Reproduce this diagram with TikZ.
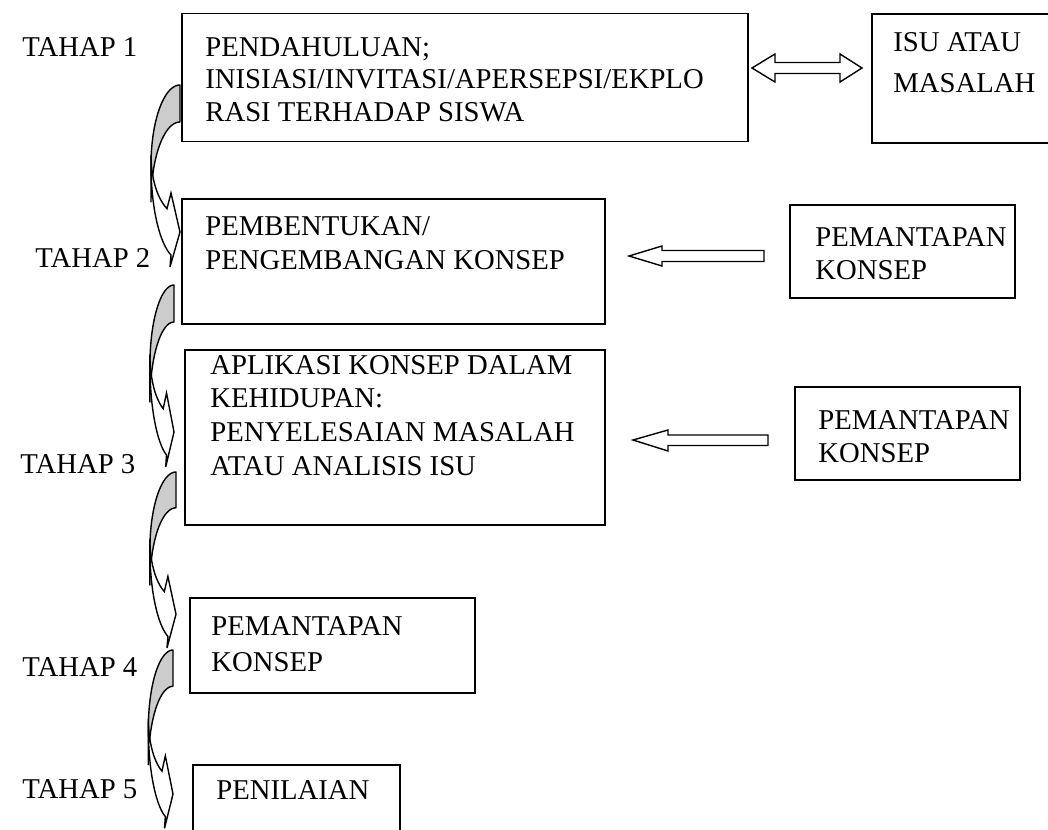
\documentclass[tikz,border=0pt]{standalone}
\usepackage{fontspec}
\setmainfont{Liberation Serif}
% curved block arrow: tail top at (#1,#2), horizontal scale #3, vertical scale #4
\newcommand{\bendarrow}[4]{%
  \begin{scope}[shift={(#1,#2)}, xscale=#3, yscale=#4]
    \path[backband] (0,0)
      -- plot[domain=270:180,samples=30] ({29*cos(\x)},{80+80*sin(\x)})
      -- plot[domain=180:270,samples=30] ({29*cos(\x)},{117+80*sin(\x)})
      -- cycle;
    \path[frontband] plot[domain=180:108.1,samples=30] ({29*cos(\x)},{80+94.7*sin(\x)})
      -- (-10,182) -- (0,147) -- (-9,108)
      -- plot[domain=116.6:180,samples=30] ({29*cos(\x)},{70+60*sin(\x)})
      -- cycle;
  \end{scope}}
\begin{document}
\begin{tikzpicture}[x=0.5pt,y=-0.5pt,
  box/.style={draw, line width=0.75pt, inner sep=0pt},
  lbl/.style={font=\fontsize{14.35}{17}\selectfont, inner sep=0pt, anchor=base west},
  blockarrow/.style={draw, fill=white, line width=0.7pt, line join=miter},
  backband/.style={draw, fill=black!20, line width=0.7pt, line join=round},
  frontband/.style={draw, fill=white, line width=0.7pt, line join=miter},
]
\useasboundingbox (0,0) rectangle (1048,829);
\clip (0,0) rectangle (1048,829);

% boxes
\node[box, minimum width=283pt,   minimum height=64pt]   (b1)  at (465,77.5) {};
\node[box, minimum width=94pt,    minimum height=64.5pt] (isu) at (966,78.5) {};
\node[box, minimum width=211.5pt, minimum height=62.5pt] (b2)  at (393.5,261.5) {};
\node[box, minimum width=112.5pt, minimum height=46.5pt] (r1)  at (902.5,251.5) {};
\node[box, minimum width=210pt,   minimum height=87.5pt] (b3)  at (395,437.5) {};
\node[box, minimum width=112.5pt, minimum height=46.5pt] (r2)  at (907.5,433.5) {};
\node[box, minimum width=142.5pt, minimum height=47.5pt] (b4)  at (332.5,645.5) {};
\node[box, minimum width=103.5pt, minimum height=47.5pt] (b5)  at (296.5,812.5) {};

% stage labels
\node[lbl] (s1) at (22,57)  {TAHAP 1};
\node[lbl] (s2) at (35,267) {TAHAP 2};
\node[lbl] (s3) at (20,473) {TAHAP 3};
\node[lbl] (s4) at (22,676) {TAHAP 4};
\node[lbl] (s5) at (22,798) {TAHAP 5};

% box texts
\node[lbl] (t1a) at (205,57)  {PENDAHULUAN;};
\node[lbl] (t1b) at (205,89)  {INISIASI/INVITASI/APERSEPSI/EKPLO};
\node[lbl] (t1c) at (205,121) {RASI TERHADAP SISWA};
\node[lbl] (ia)  at (893,52)  {ISU ATAU};
\node[lbl] (ib)  at (893,93)  {MASALAH};
\node[lbl] (t2a) at (205,235) {PEMBENTUKAN/};
\node[lbl] (t2b) at (205,269) {PENGEMBANGAN KONSEP};
\node[lbl] (r1a) at (815,246) {PEMANTAPAN};
\node[lbl] (r1b) at (815,279) {KONSEP};
\node[lbl] (t3a) at (210,374) {APLIKASI KONSEP DALAM};
\node[lbl] (t3b) at (210,407) {KEHIDUPAN:};
\node[lbl] (t3c) at (210,441) {PENYELESAIAN MASALAH};
\node[lbl] (t3d) at (210,475) {ATAU ANALISIS ISU};
\node[lbl] (r2a) at (818,429) {PEMANTAPAN};
\node[lbl] (r2b) at (818,462) {KONSEP};
\node[lbl] (t4a) at (211,635) {PEMANTAPAN};
\node[lbl] (t4b) at (211,671) {KONSEP};
\node[lbl] (t5a) at (216,799) {PENILAIAN};

% straight block arrows
\draw[blockarrow] (752,68) -- (775,54) -- (775,62.5) -- (840,62.5) -- (840,54)
  -- (862,68) -- (840,82) -- (840,73.5) -- (775,73.5) -- (775,82) -- cycle;
\draw[blockarrow] (629,256) -- (662,246) -- (662,250.5) -- (764,250.5)
  -- (764,261.5) -- (662,261.5) -- (662,266) -- cycle;
\draw[blockarrow] (633,440) -- (668,430) -- (668,435) -- (768,435)
  -- (768,445.5) -- (668,445.5) -- (668,451) -- cycle;

% curved block arrows between stages
\bendarrow{180}{85}{1}{1}
\bendarrow{174}{285}{0.83}{1}
\bendarrow{176}{472}{0.9}{0.967}
\bendarrow{173}{650}{0.85}{0.98}
\end{tikzpicture}
\end{document}
